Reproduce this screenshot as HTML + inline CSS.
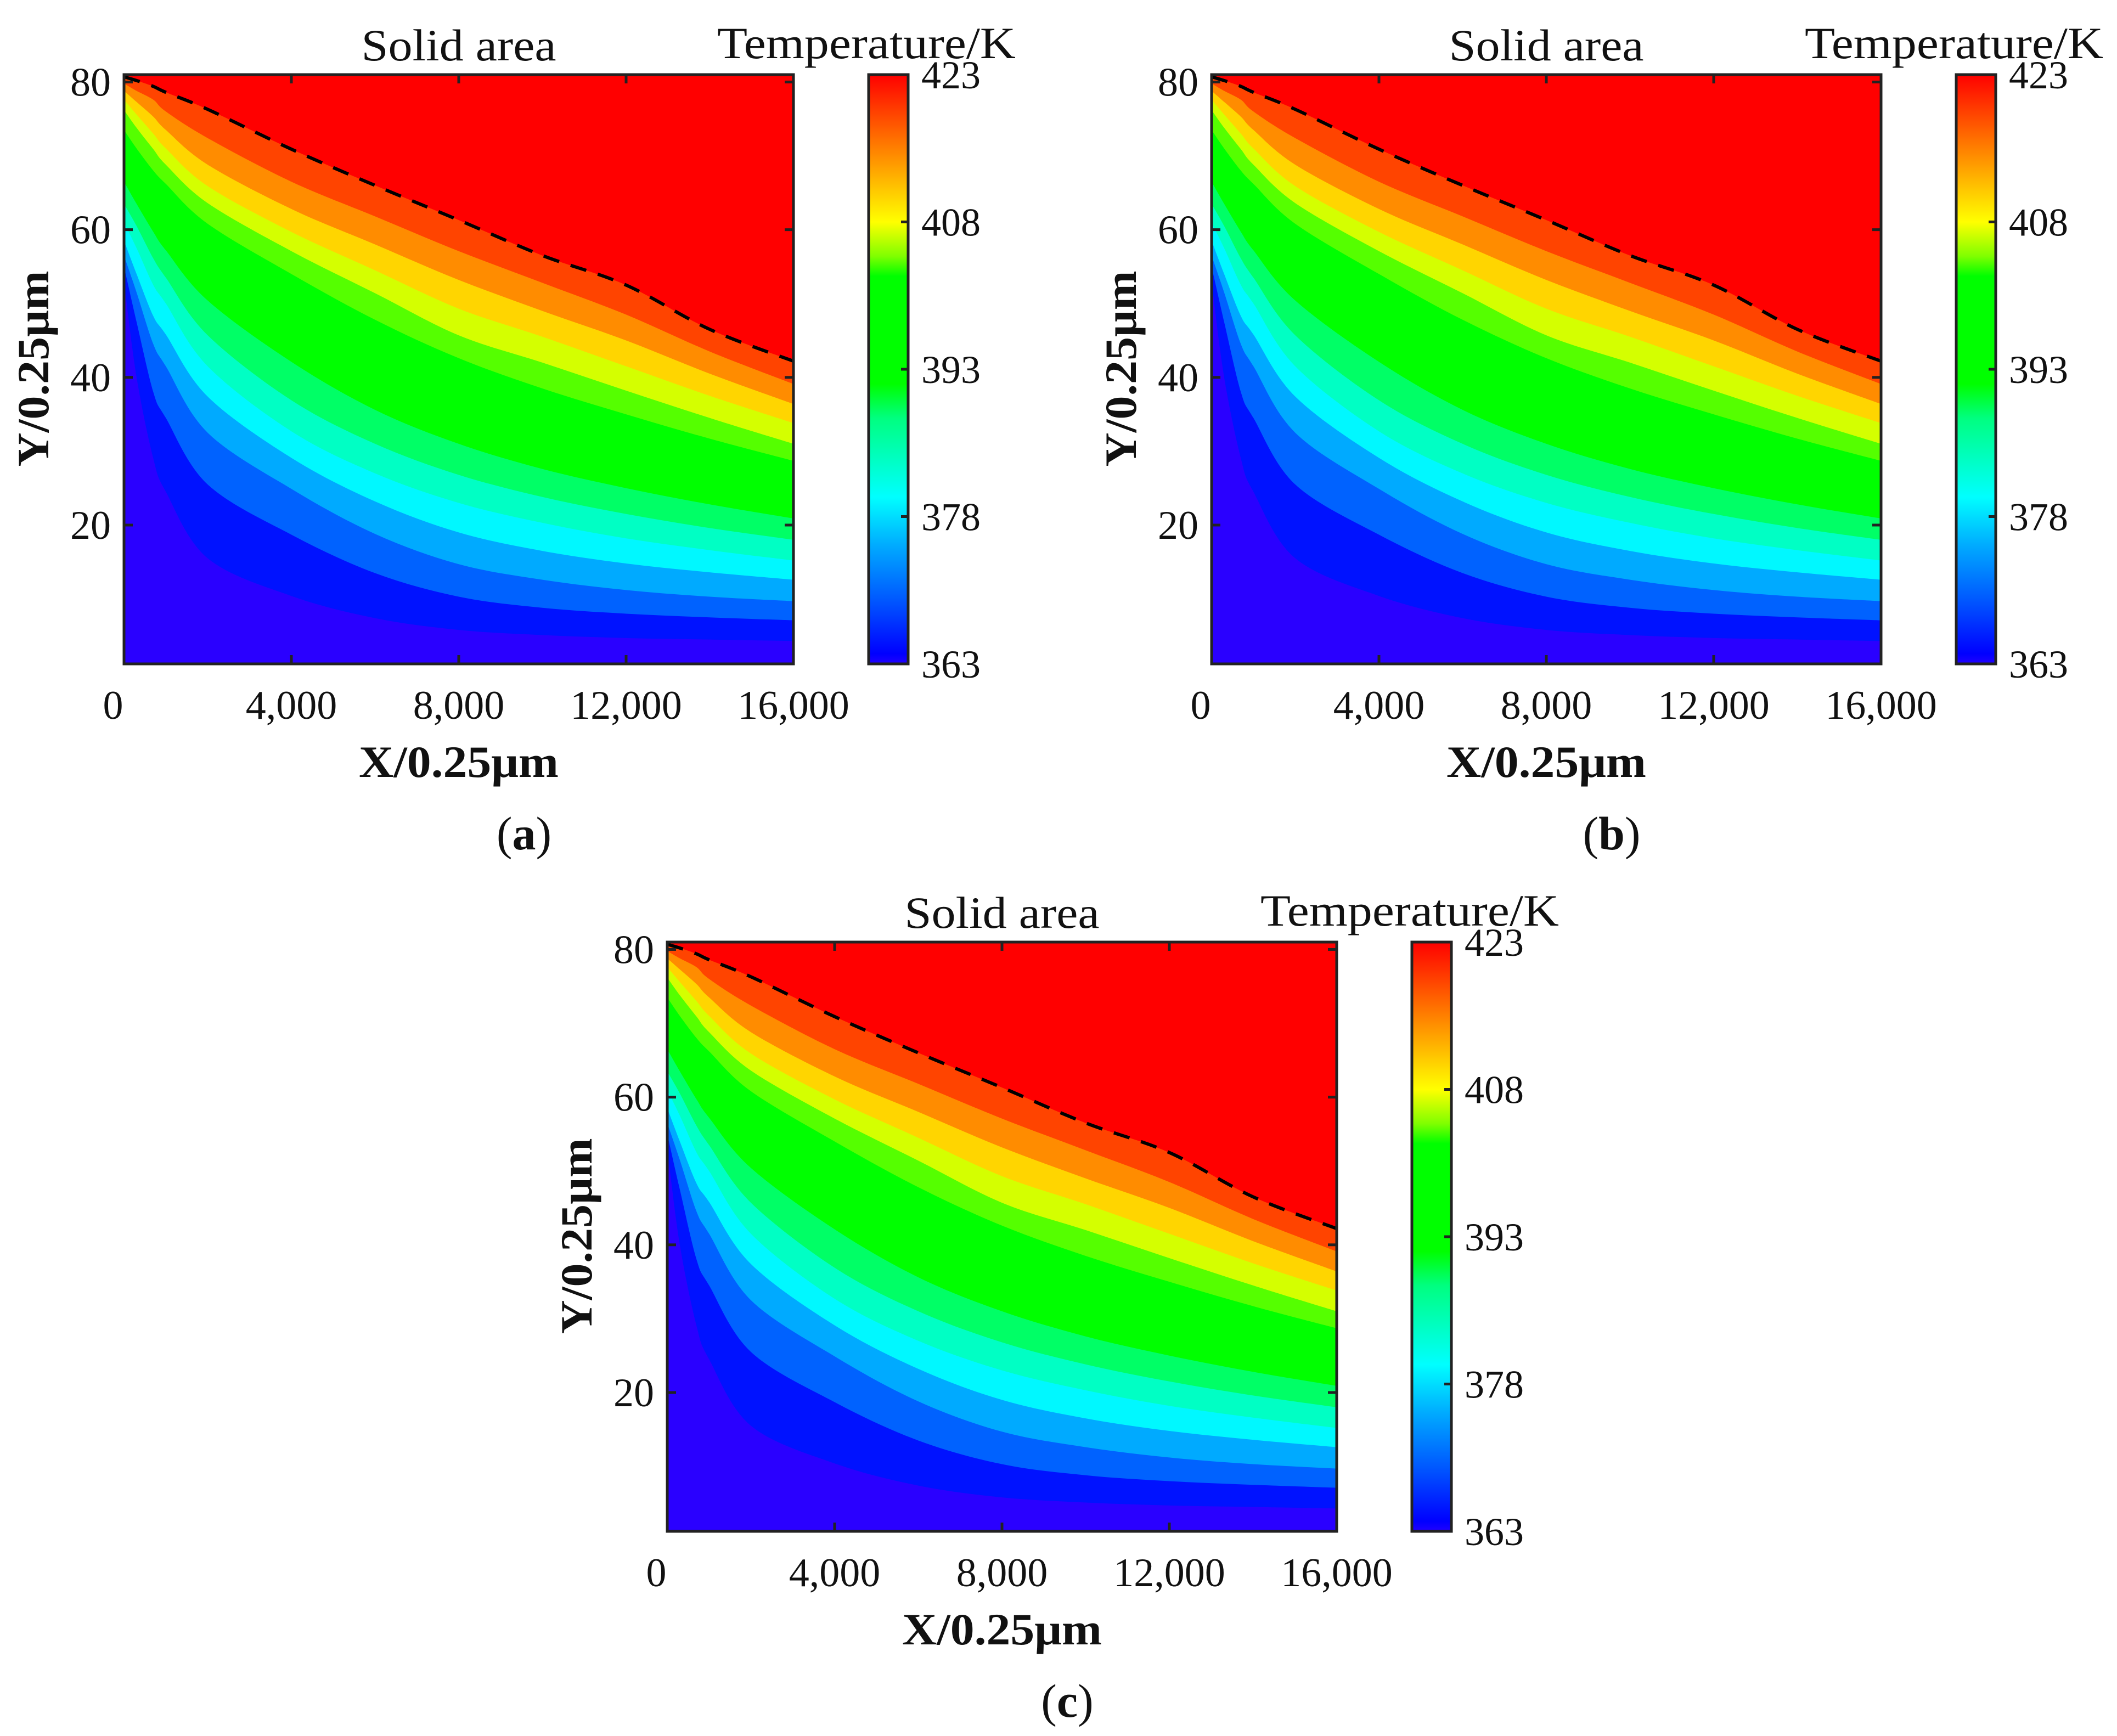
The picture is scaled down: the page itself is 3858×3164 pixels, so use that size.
<!DOCTYPE html>
<html><head><meta charset="utf-8">
<style>
html,body{margin:0;padding:0;background:#fff;}
svg{display:block;}
text{font-family:"Liberation Serif",serif;fill:#111;}
</style></head>
<body>
<svg id="fig" width="3858" height="3164" viewBox="0 0 3858 3164" xmlns="http://www.w3.org/2000/svg"></svg>
<script>
// ---- data ----
const xSamples = [0, 300, 700, 1000, 2000, 4000, 6000, 8000, 10000, 12000, 14000, 16000];
// contour boundaries (y values, units of 0.25um) from top (hottest) to bottom
const bRed      = [80.7, 80.2, 79.4, 78.6, 76.3, 70.9, 66.0, 61.3, 56.5, 52.5, 46.5, 42.2];
const bOrange   = [79.8, 78.8, 77.6, 76.0, 72.4, 66.5, 61.8, 57.1, 52.8, 48.5, 43.5, 39.1];
const bGold     = [78.8, 77.3, 75.3, 73.5, 68.8, 62.8, 58.0, 53.2, 49.0, 45.0, 40.5, 36.4];
const bYellow   = [77.6, 75.6, 73.0, 71.0, 65.9, 59.7, 54.5, 49.3, 45.5, 41.5, 37.5, 33.8];
const bLime     = [76.2, 73.8, 70.9, 68.8, 63.6, 57.1, 51.4, 45.7, 42.0, 38.2, 34.5, 31.0];
const bGreen    = [73.5, 71.0, 68.0, 66.2, 60.8, 54.0, 47.8, 42.6, 38.5, 35.0, 31.7, 28.7];
const bSpring   = [66.5, 63.5, 59.7, 57.2, 50.4, 42.1, 35.6, 31.0, 27.6, 25.0, 22.8, 20.9];
const bAqua     = [63.5, 60.5, 56.1, 53.5, 45.7, 36.9, 31.0, 26.8, 23.8, 21.5, 19.6, 18.0];
const bCyan     = [61.0, 57.5, 52.5, 50.0, 41.5, 32.7, 27.0, 23.0, 20.3, 18.2, 16.6, 15.2];
const bSky      = [58.5, 54.0, 48.3, 45.8, 37.4, 29.1, 23.2, 19.0, 16.5, 14.8, 13.6, 12.6];
const bBlue     = [56.5, 51.5, 44.5, 41.5, 32.5, 24.9, 18.8, 14.7, 12.6, 11.2, 10.3, 9.7];
const bDeep     = [55.0, 47.5, 38.0, 34.5, 25.5, 18.7, 13.5, 10.3, 8.8, 8.0, 7.5, 7.1];
const bViolet   = [53.0, 40.0, 29.0, 24.5, 15.5, 10.4, 7.4, 5.8, 5.1, 4.7, 4.5, 4.3];
const xTicks = [0, 4000, 8000, 12000, 16000];
const xTickLabels = ["0", "4,000", "8,000", "12,000", "16,000"];
const yTicks = [20, 40, 60, 80];
const cbTicks = [363, 378, 393, 408, 423];
const panels = ["a", "b", "c"];

const boundaries = [bRed,bOrange,bGold,bYellow,bLime,bGreen,bSpring,bAqua,bCyan,bSky,bBlue,bDeep,bViolet];
const bandColors = ['#ff4400','#ff8c00','#ffd500','#d4ff00','#55ff00','#00ff00','#00ff66','#00ffc4','#00f8ff','#00aaff','#0062ff','#0012ff','#2a00ff'];

const NS = "http://www.w3.org/2000/svg";
const svg = document.getElementById('fig');
function mk(tag, attrs, parent){
  const e = document.createElementNS(NS, tag);
  for (const k in attrs) e.setAttribute(k, attrs[k]);
  (parent||svg).appendChild(e);
  return e;
}
function smooth(pts){
  let d = '';
  for (let i = 0; i < pts.length - 1; i++) {
    const p0 = pts[Math.max(0, i-1)], p1 = pts[i], p2 = pts[i+1], p3 = pts[Math.min(pts.length-1, i+2)];
    const c1x = p1[0] + (p2[0]-p0[0])/6, c1y = p1[1] + (p2[1]-p0[1])/6;
    const c2x = p2[0] - (p3[0]-p1[0])/6, c2y = p2[1] - (p3[1]-p1[1])/6;
    d += ' C' + c1x.toFixed(1) + ',' + c1y.toFixed(1) + ' ' + c2x.toFixed(1) + ',' + c2y.toFixed(1) + ' ' + p2[0].toFixed(1) + ',' + p2[1].toFixed(1);
  }
  return d;
}
const PW = 1220, PH = 1074, XMIN = 0, XMAX = 16000, YMIN = 1.2, YMAX = 81;

function drawPanel(ox, oy, label){
  const g = mk('g', {});
  
  
  const sx = v => ox + (v - XMIN) / (XMAX - XMIN) * PW;
  const sy = v => oy + (YMAX - v) / (YMAX - YMIN) * PH;
  const clipId = 'clip' + label;
  const cp = mk('clipPath', {id: clipId}, g);
  mk('rect', {x: ox, y: oy, width: PW, height: PH}, cp);
  const field = mk('g', {'clip-path': 'url(#' + clipId + ')'}, g);
  
  
  const bg = mk('rect', {x: ox, y: oy, width: PW, height: PH, fill: '#ff0000'}, field);
  
  
  boundaries.forEach((b, i) => {
    const pts = xSamples.map((x, j) => [sx(x), sy(b[j])]);
    let d = 'M' + (ox - 5) + ',' + (oy + PH + 5) + ' L' + (ox - 5) + ',' + pts[0][1].toFixed(1) + ' L' + pts[0][0].toFixed(1) + ',' + pts[0][1].toFixed(1);
    d += smooth(pts);
    d += ' L' + (ox + PW + 5) + ',' + pts[pts.length-1][1].toFixed(1) + ' L' + (ox + PW + 5) + ',' + (oy + PH + 5) + ' Z';
    const p = mk('path', {d: d, fill: bandColors[i]}, field);
    
    
  });
  const rp = xSamples.map((x, j) => [sx(x), sy(bRed[j])]);
  const dd = 'M' + rp[0][0].toFixed(1) + ',' + rp[0][1].toFixed(1) + smooth(rp);
  const dl = mk('path', {d: dd, fill: 'none', stroke: '#000', 'stroke-width': 6, 'stroke-dasharray': '30 22'}, field);
  
  
  const fr = mk('rect', {x: ox, y: oy, width: PW, height: PH, fill: 'none', stroke: '#222', 'stroke-width': 5}, g);
  
  
  xTicks.forEach((t, i) => {
    const x = sx(t);
    if (i > 0 && i < xTicks.length - 1) {
      mk('line', {x1: x, y1: oy + PH, x2: x, y2: oy + PH - 16, stroke: '#222', 'stroke-width': 5}, g);
      mk('line', {x1: x, y1: oy, x2: x, y2: oy + 16, stroke: '#222', 'stroke-width': 5}, g);
    }
    const tl = mk('text', {x: i === 0 ? x - 20 : x, y: oy + PH + 100, 'font-size': 74, 'text-anchor': 'middle'}, g);
    tl.textContent = xTickLabels[i];
    
    
  });
  yTicks.forEach(t => {
    const y = sy(t);
    mk('line', {x1: ox, y1: y, x2: ox + 16, y2: y, stroke: '#222', 'stroke-width': 5}, g);
    mk('line', {x1: ox + PW, y1: y, x2: ox + PW - 16, y2: y, stroke: '#222', 'stroke-width': 5}, g);
    const tl = mk('text', {x: ox - 24, y: y + 25, 'font-size': 74, 'text-anchor': 'end'}, g);
    tl.textContent = String(t);
    
    
  });
  const t1 = mk('text', {x: ox + PW/2, y: oy - 26, 'font-size': 82, 'text-anchor': 'middle', textLength: 355, lengthAdjust: 'spacingAndGlyphs'}, g);
  t1.textContent = 'Solid area';
  
  
  const xl = mk('text', {x: ox + PW/2, y: oy + PH + 206, 'font-size': 82, 'font-weight': 'bold', 'text-anchor': 'middle', textLength: 364, lengthAdjust: 'spacingAndGlyphs'}, g);
  xl.textContent = 'X/0.25μm';
  
  
  const yx = ox - 138, yy = oy + 536;
  const yl = mk('text', {x: yx, y: yy, 'font-size': 82, 'font-weight': 'bold', 'text-anchor': 'middle', textLength: 357, lengthAdjust: 'spacingAndGlyphs', transform: 'rotate(-90 ' + yx + ' ' + yy + ')'}, g);
  yl.textContent = 'Y/0.25μm';
  
  
  const cx = ox + 1357, cw = 72;
  const gid = 'cbgrad' + label;
  const lg = mk('linearGradient', {id: gid, x1: 0, y1: 1, x2: 0, y2: 0}, g);
  const stops = [[363,'#2200ff'],[364,'#0000ff'],[369,'#0050ff'],[375,'#00aaff'],[380,'#00ffff'],[388,'#00ff80'],[391.5,'#00ff00'],[402.5,'#00ff00'],[404.5,'#80ff00'],[408,'#ffff00'],[413,'#ffaa00'],[418,'#ff5500'],[423,'#ff0000']];
  stops.forEach(s => mk('stop', {offset: ((s[0]-363)/60).toFixed(3), 'stop-color': s[1]}, lg));
  const cb = mk('rect', {x: cx, y: oy, width: cw, height: PH, fill: 'url(#' + gid + ')', stroke: '#222', 'stroke-width': 5}, g);
  
  
  const csy = v => oy + PH - (v - 363) / 60 * PH;
  cbTicks.forEach((t, i) => {
    const y = csy(t);
    if (i > 0 && i < cbTicks.length - 1) mk('line', {x1: cx + cw, y1: y, x2: cx + cw - 13, y2: y, stroke: '#222', 'stroke-width': 5}, g);
    const tl = mk('text', {x: cx + cw + 24, y: y + 25, 'font-size': 72}, g);
    tl.textContent = String(t);
    
    
  });
  const ct = mk('text', {x: ox + 1353, y: oy - 30, 'font-size': 82, 'text-anchor': 'middle', textLength: 544, lengthAdjust: 'spacingAndGlyphs'}, g);
  ct.textContent = 'Temperature/K';
  
  
  const cap = mk('text', {x: ox + 729, y: oy + 1412, 'font-size': 86, 'text-anchor': 'middle'}, g);
  
  
  const t1s = mk('tspan', {}, cap); t1s.textContent = '(';
  const t2s = mk('tspan', {'font-weight': 'bold'}, cap); t2s.textContent = label;
  const t3s = mk('tspan', {}, cap); t3s.textContent = ')';
}
drawPanel(226, 136, panels[0]);
drawPanel(2208, 136, panels[1]);
drawPanel(1216, 1717, panels[2]);
</script>
</body></html>
